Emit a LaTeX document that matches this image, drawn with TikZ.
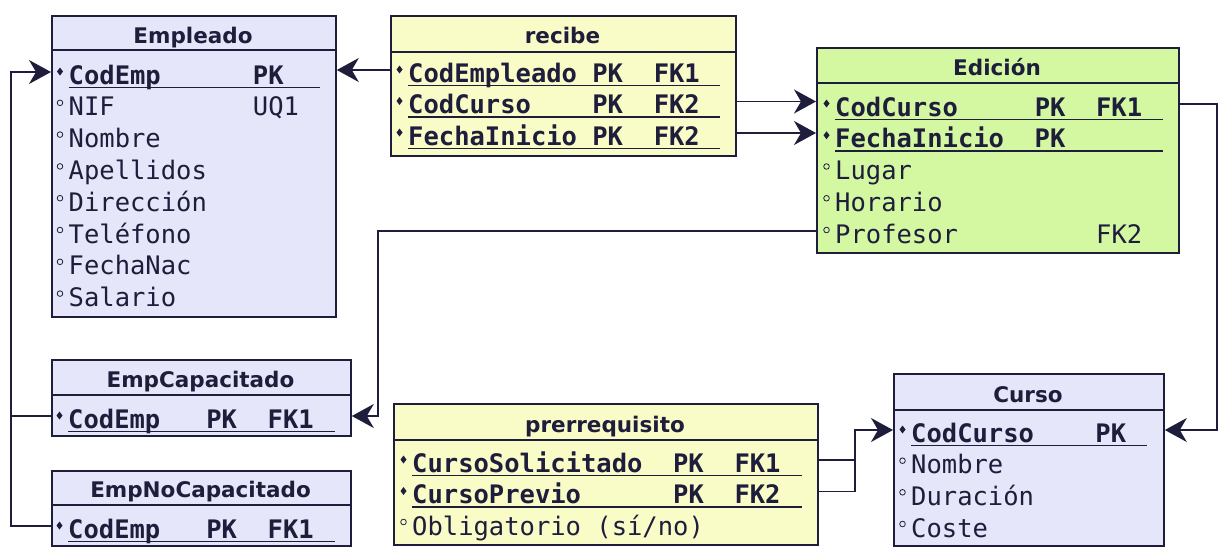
\documentclass[tikz,border=0pt]{standalone}
\usepackage{fontspec}
\setmainfont{DejaVu Sans}
\setmonofont{DejaVu Sans Mono}
\usetikzlibrary{arrows.meta,calc}
\definecolor{lav}{RGB}{230,230,250}
\definecolor{yel}{RGB}{250,252,200}
\definecolor{grn}{RGB}{212,248,162}
\definecolor{ink}{RGB}{30,30,60}
\newlength\cw \setlength\cw{15.35pt}
\newcommand\cc[2]{\makebox[#1\cw][l]{#2}}
\tikzset{
 tbl/.style={draw=ink, line width=1.8pt, anchor=north west, inner sep=0pt},
 ttl/.style={font=\bfseries\fontsize{21.5}{21.5}\selectfont, text=ink, anchor=base, inner sep=0pt},
 attr/.style={font=\ttfamily\fontsize{25.5}{25.5}\selectfont, text=ink, anchor=base west, inner sep=0pt, text height=24pt, text depth=0pt},
 keyattr/.style={attr, font=\ttfamily\bfseries\fontsize{25.5}{25.5}\selectfont},
 conn/.style={draw=ink, line width=1.6pt},
 arr/.style={conn, -{Stealth[length=22pt,width=24pt,inset=7pt]}},
 uline/.style={draw=ink, line width=1.8pt},
 divider/.style={draw=ink, line width=1.8pt},
}
% #1 name, #2 x, #3 baseline, #4 end x of underline, #5 text
\newcommand\keyrow[5]{%
  \node[keyattr] (#1) at (#2,#3) {#5};
  \fill[ink] ($(#1.base west)+(-8.5,-12.5)$) +(0,-4) -- +(3,0) -- +(0,4) -- +(-3,0) -- cycle;
  \draw[uline] ($(#1.base west)+(0,3.5)$) -- (#4,#3+3.5);
}
% #1 name, #2 x, #3 baseline, #4 text
\newcommand\plainrow[4]{%
  \node[attr] (#1) at (#2,#3) {#4};
  \draw[ink, line width=0.8pt] ($(#1.base west)+(-8.5,-13)$) circle (2.8pt);
}
\begin{document}
\begin{tikzpicture}[x=1pt,y=-1pt]
\useasboundingbox (0,0) rectangle (1225,552);
% tables
\node[tbl, fill=lav, minimum width=284pt, minimum height=301pt] (emp) at (51,15) {};
\node[tbl, fill=yel, minimum width=345pt, minimum height=140pt] (rec) at (390,15) {};
\node[tbl, fill=grn, minimum width=362pt, minimum height=205pt] (edi) at (816,47) {};
\node[tbl, fill=lav, minimum width=299pt, minimum height=76pt] (cap) at (51,359) {};
\node[tbl, fill=lav, minimum width=299pt, minimum height=75pt] (nocap) at (51,470) {};
\node[tbl, fill=yel, minimum width=424pt, minimum height=141pt] (pre) at (393,403) {};
\node[tbl, fill=lav, minimum width=270pt, minimum height=172pt] (cur) at (893,373) {};
% dividers
\draw[divider] (51,50) -- (335,50);
\draw[divider] (390,52) -- (735,52);
\draw[divider] (816,83) -- (1178,83);
\draw[divider] (51,395) -- (350,395);
\draw[divider] (51,505) -- (350,505);
\draw[divider] (393,440) -- (817,440);
\draw[divider] (893,410) -- (1163,410);
% titles
\node[ttl] (empT) at (193,43) {Empleado};
\node[ttl] (recT) at (562.5,43) {recibe};
\node[ttl] (ediT) at (997,75) {Edición};
\node[ttl] (capT) at (200.5,387) {EmpCapacitado};
\node[ttl] (nocapT) at (200.5,497) {EmpNoCapacitado};
\node[ttl] (preT) at (605,432) {prerrequisito};
\node[ttl] (curT) at (1028,402) {Curso};
% Empleado
\keyrow{emp1}{68.5}{84}{320}{\cc{12}{CodEmp}PK}
\plainrow{emp2}{68.5}{115.8}{\cc{12}{NIF}UQ1}
\plainrow{emp3}{68.5}{147.6}{Nombre}
\plainrow{emp4}{68.5}{179.4}{Apellidos}
\plainrow{emp5}{68.5}{211.2}{Dirección}
\plainrow{emp6}{68.5}{243}{Teléfono}
\plainrow{emp7}{68.5}{274.8}{FechaNac}
\plainrow{emp8}{68.5}{306.6}{Salario}
% recibe
\keyrow{rec1}{408}{82}{720}{\cc{12}{CodEmpleado}\cc{4}{PK}FK1}
\keyrow{rec2}{408}{113.5}{720}{\cc{12}{CodCurso}\cc{4}{PK}FK2}
\keyrow{rec3}{408}{145}{720}{\cc{12}{FechaInicio}\cc{4}{PK}FK2}
% Edicion
\keyrow{edi1}{835}{116}{1163}{\cc{13}{CodCurso}\cc{4}{PK}FK1}
\keyrow{edi2}{835}{147.75}{1163}{\cc{13}{FechaInicio}PK}
\plainrow{edi3}{835}{179.5}{Lugar}
\plainrow{edi4}{835}{211.25}{Horario}
\plainrow{edi5}{835}{243}{\cc{17}{Profesor}FK2}
% EmpCapacitado / EmpNoCapacitado
\keyrow{cap1}{68}{428}{335}{\cc{9}{CodEmp}\cc{4}{PK}FK1}
\keyrow{nocap1}{68}{538}{335}{\cc{9}{CodEmp}\cc{4}{PK}FK1}
% prerrequisito
\keyrow{pre1}{412}{472}{802}{\cc{17}{CursoSolicitado}\cc{4}{PK}FK1}
\keyrow{pre2}{412}{503.5}{802}{\cc{17}{CursoPrevio}\cc{4}{PK}FK2}
\plainrow{pre3}{412}{535}{Obligatorio (sí/no)}
% Curso
\keyrow{cur1}{911}{442}{1147}{\cc{12}{CodCurso}PK}
\plainrow{cur2}{911}{473.7}{Nombre}
\plainrow{cur3}{911}{505.3}{Duración}
\plainrow{cur4}{911}{537}{Coste}
% connectors
\coordinate (jr) at (1217,0);
\coordinate (jp) at (378,0);
\coordinate (jl) at (11,0);
\coordinate (jc) at (855,0);
\draw[arr] (rec1.center -| rec.west) -- (rec1.center -| emp.east);
\draw[arr] (rec2.center -| rec.east) -- (rec2.center -| edi.west);
\draw[arr] (rec3.center -| rec.east) -- (rec3.center -| edi.west);
\draw[arr] (edi1.center -| edi.east) -- (edi1.center -| jr) -- (cur1.center -| jr) -- (cur1.center -| cur.east);
\draw[arr] (edi5.center -| edi.west) -- (edi5.center -| jp) -- (cap1.center -| jp) -- (cap1.center -| cap.east);
\draw[arr] (cap1.center -| cap.west) -- (cap1.center -| jl) -- (emp1.center -| jl) -- (emp1.center -| emp.west);
\draw[conn] (nocap1.center -| nocap.west) -- (nocap1.center -| jl) -- (cap1.center -| jl);
\draw[arr] (pre1.center -| pre.east) -- (pre1.center -| jc) -- (cur1.center -| jc) -- (cur1.center -| cur.west);
\draw[conn] (pre2.center -| pre.east) -- (pre2.center -| jc) -- (pre1.center -| jc);
\end{tikzpicture}
\end{document}
